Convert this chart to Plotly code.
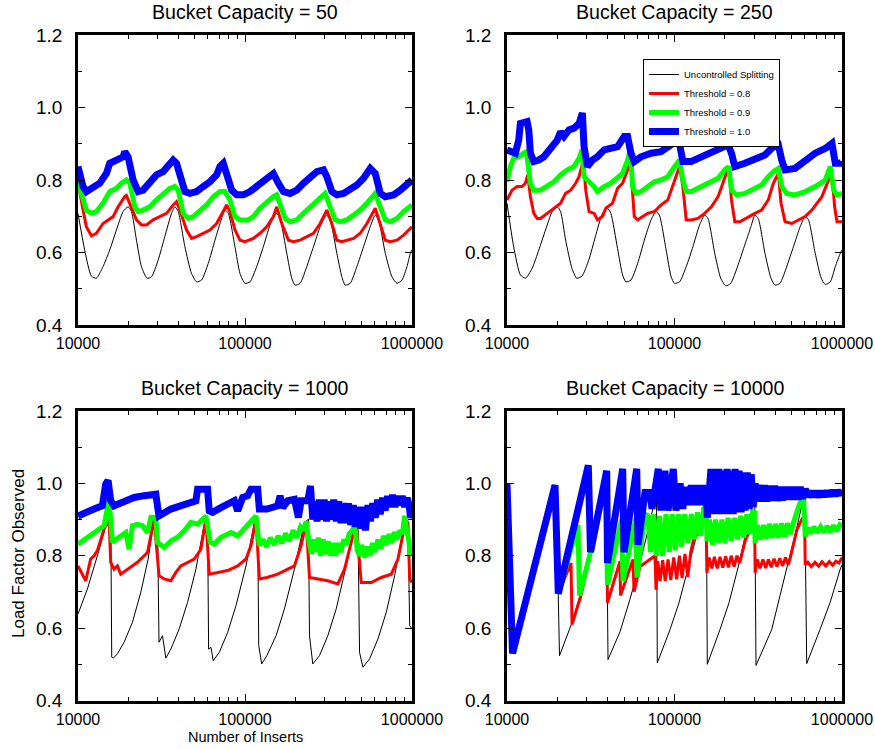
import plotly.graph_objects as go

# ---------------- data: (inserts, load factor) ----------------
cap50_uncontrolled = [(10000,0.708),(10960,0.607),(12020,0.535),(12880,0.529),(14120,0.561),(15490,0.607),(16980,0.662),(18620,0.713),(19950,0.726),(20890,0.713),(22390,0.634),(23990,0.561),(25900,0.529),(27540,0.533),(30200,0.579),(33110,0.644),(36310,0.708),(38020,0.726),(39810,0.713),(43650,0.616),(47860,0.542),(51290,0.519),(54950,0.524),(60260,0.570),(66070,0.634),(72440,0.694),(75860,0.717),(79430,0.708),(87100,0.616),(93330,0.542),(100000,0.515),(107150,0.519),(117490,0.561),(128800,0.616),(141200,0.676),(151400,0.703),(154900,0.708),(162200,0.694),(177800,0.598),(190500,0.529),(199500,0.510),(213800,0.515),(234400,0.561),(257000,0.616),(281800,0.671),(302000,0.699),(309000,0.703),(323600,0.690),(354800,0.598),(380200,0.533),(398100,0.510),(426600,0.515),(467700,0.561),(512900,0.616),(562300,0.671),(602600,0.703),(631000,0.690),(691800,0.598),(758600,0.533),(812800,0.515),(871000,0.524),(933300,0.561),(977200,0.598),(1000000,0.607)]
cap50_t08 = [(10000,0.791),(11220,0.671),(12020,0.646),(12880,0.653),(14120,0.680),(15490,0.694),(16220,0.699),(17380,0.726),(19050,0.754),(19500,0.757),(20890,0.726),(22390,0.690),(23990,0.676),(25700,0.676),(28180,0.690),(30900,0.699),(33880,0.708),(37150,0.731),(38900,0.740),(40740,0.717),(44670,0.662),(47860,0.639),(51290,0.644),(56230,0.653),(61660,0.662),(67610,0.680),(74130,0.713),(77620,0.731),(81280,0.713),(87100,0.662),(93330,0.634),(100000,0.630),(112200,0.639),(123000,0.653),(134900,0.671),(147900,0.699),(154900,0.726),(166000,0.680),(182000,0.634),(195000,0.630),(213800,0.634),(234400,0.644),(257000,0.653),(281800,0.680),(309000,0.717),(331100,0.680),(354800,0.634),(380200,0.630),(407400,0.634),(446700,0.639),(489800,0.653),(537000,0.680),(602600,0.722),(645700,0.680),(691800,0.634),(741300,0.630),(812800,0.634),(891300,0.648),(1000000,0.671)]
cap50_t09 = [(10000,0.795),(11220,0.717),(12020,0.708),(12880,0.713),(14120,0.736),(15490,0.768),(16980,0.777),(18200,0.791),(19500,0.800),(20420,0.791),(21880,0.726),(22910,0.713),(24550,0.717),(26920,0.726),(29510,0.745),(32360,0.763),(35480,0.777),(38020,0.782),(39810,0.772),(42660,0.708),(45710,0.694),(48980,0.699),(53700,0.713),(58880,0.731),(64570,0.754),(70790,0.768),(75860,0.768),(81280,0.745),(87100,0.699),(93330,0.690),(104700,0.690),(112200,0.699),(123000,0.722),(134900,0.740),(147900,0.754),(154900,0.759),(162200,0.736),(173800,0.694),(186200,0.685),(204200,0.690),(223900,0.708),(245500,0.726),(269200,0.745),(302000,0.763),(323600,0.726),(346700,0.690),(371500,0.685),(407400,0.690),(446700,0.703),(489800,0.717),(537000,0.736),(602600,0.763),(645700,0.726),(691800,0.690),(741300,0.685),(812800,0.694),(891300,0.713),(1000000,0.731)]
cap50_t10 = [(10000,0.837),(10720,0.782),(11220,0.768),(12300,0.777),(13490,0.791),(14790,0.818),(15490,0.846),(16980,0.855),(18620,0.864),(19050,0.878),(19950,0.864),(21380,0.800),(22910,0.768),(24550,0.772),(26920,0.791),(29510,0.814),(32360,0.823),(35480,0.841),(37150,0.855),(38900,0.846),(40740,0.809),(43650,0.768),(46770,0.763),(51290,0.768),(56230,0.782),(61660,0.795),(67610,0.814),(70790,0.837),(74130,0.846),(77620,0.818),(83180,0.772),(89130,0.759),(97720,0.759),(107150,0.768),(117490,0.782),(128800,0.791),(141200,0.809),(147900,0.818),(158500,0.791),(169800,0.768),(186200,0.763),(204200,0.772),(223900,0.791),(245500,0.809),(269200,0.823),(295100,0.828),(309000,0.809),(331100,0.768),(354800,0.759),(389000,0.763),(426600,0.772),(467700,0.786),(512900,0.805),(562300,0.832),(602600,0.818),(645700,0.763),(691800,0.754),(776200,0.759),(851100,0.772),(933300,0.791),(1000000,0.800)]

cap250_uncontrolled = [(10000,0.736),(10960,0.616),(12020,0.538),(12880,0.529),(14120,0.556),(15490,0.607),(16980,0.662),(18620,0.713),(19950,0.726),(20890,0.713),(22390,0.634),(24430,0.556),(26060,0.529),(28050,0.535),(30760,0.579),(33730,0.644),(37150,0.708),(39810,0.722),(41690,0.708),(45710,0.611),(48980,0.538),(51290,0.519),(54950,0.524),(60260,0.570),(66070,0.634),(72440,0.690),(77620,0.713),(81280,0.703),(89130,0.607),(95500,0.533),(100000,0.515),(107150,0.519),(117490,0.561),(128800,0.616),(141200,0.676),(151400,0.703),(158500,0.694),(173800,0.598),(188800,0.529),(202300,0.508),(216800,0.515),(237700,0.561),(260600,0.616),(285800,0.671),(302000,0.703),(316200,0.694),(346700,0.598),(376700,0.529),(398100,0.510),(426600,0.515),(467700,0.561),(512900,0.616),(562300,0.671),(602600,0.699),(631000,0.690),(691800,0.598),(751600,0.529),(794300,0.512),(851100,0.519),(912000,0.561),(977200,0.598),(1000000,0.607)]
cap250_t08 = [(10000,0.745),(10720,0.772),(11480,0.782),(12300,0.782),(12880,0.791),(13300,0.814),(13800,0.754),(14450,0.708),(15140,0.694),(15850,0.694),(17380,0.708),(19050,0.722),(20890,0.736),(22390,0.763),(23990,0.772),(25700,0.791),(26920,0.809),(28580,0.855),(29510,0.772),(30900,0.713),(33110,0.708),(34670,0.690),(37150,0.699),(38900,0.722),(42660,0.736),(45710,0.777),(48980,0.791),(52480,0.828),(54450,0.874),(56230,0.763),(57540,0.699),(60260,0.690),(64570,0.699),(69180,0.708),(75860,0.713),(83180,0.731),(91200,0.745),(100000,0.800),(107150,0.837),(112200,0.782),(117490,0.690),(125900,0.690),(138000,0.694),(151400,0.708),(166000,0.726),(182000,0.754),(199500,0.809),(210900,0.837),(218800,0.745),(229100,0.685),(245500,0.685),(275400,0.699),(302000,0.708),(331100,0.717),(363100,0.745),(389000,0.791),(416900,0.818),(432500,0.736),(457100,0.685),(501200,0.680),(549500,0.690),(602600,0.699),(660700,0.717),(758600,0.754),(831800,0.800),(871000,0.818),(903600,0.726),(933300,0.685),(1000000,0.685)]
cap250_t09 = [(10000,0.795),(10470,0.837),(10960,0.860),(11750,0.864),(12590,0.874),(13060,0.878),(13800,0.791),(14450,0.772),(15850,0.772),(17380,0.782),(19050,0.795),(20890,0.814),(22910,0.828),(25120,0.837),(26920,0.860),(28050,0.883),(28840,0.809),(30900,0.795),(33110,0.782),(34670,0.768),(38020,0.782),(41690,0.791),(45710,0.809),(48980,0.818),(52480,0.855),(54450,0.883),(56230,0.782),(58880,0.763),(63100,0.768),(69180,0.782),(75860,0.795),(83180,0.800),(91200,0.809),(100000,0.837),(107150,0.855),(112200,0.800),(117490,0.768),(125900,0.768),(138000,0.777),(151400,0.786),(166000,0.795),(182000,0.805),(199500,0.828),(210900,0.837),(218800,0.772),(234400,0.759),(263000,0.763),(302000,0.777),(331100,0.786),(363100,0.809),(389000,0.823),(416900,0.832),(436500,0.782),(467700,0.763),(524800,0.759),(602600,0.768),(691800,0.782),(794300,0.800),(851100,0.837),(891300,0.772),(933300,0.759),(1000000,0.763)]
cap250_t10 = [(10000,0.883),(10470,0.878),(11220,0.874),(11750,0.910),(12020,0.956),(13180,0.961),(13490,0.938),(13800,0.874),(14450,0.851),(15490,0.855),(16600,0.864),(18200,0.887),(19950,0.910),(20890,0.933),(21880,0.920),(23440,0.938),(25120,0.943),(26920,0.956),(28180,0.985),(28840,0.892),(30200,0.837),(32360,0.855),(34670,0.864),(38020,0.883),(41690,0.887),(45710,0.892),(50120,0.920),(52480,0.920),(54950,0.874),(57540,0.851),(63100,0.864),(72440,0.874),(83180,0.878),(95500,0.897),(104700,0.924),(112200,0.851),(125900,0.851),(144500,0.864),(166000,0.874),(190500,0.892),(208900,0.897),(218800,0.874),(229100,0.837),(263000,0.846),(302000,0.855),(346700,0.869),(389000,0.892),(416900,0.897),(436500,0.855),(457100,0.828),(524800,0.832),(602600,0.855),(691800,0.874),(794300,0.887),(871000,0.901),(912000,0.846),(977200,0.846),(1000000,0.851)]

cap1000_uncontrolled = [(10000,0.639),(11380,0.708),(13060,0.800),(14320,0.864),(15350,0.929),(15700,0.920),(15920,0.520),(16290,0.517),(17220,0.529),(18880,0.561),(21180,0.616),(23770,0.699),(26300,0.791),(28580,0.901),(29920,0.906),(30550,0.561),(32060,0.579),(33570,0.517),(35970,0.542),(40360,0.598),(45290,0.671),(50820,0.763),(57540,0.897),(59700,0.901),(60550,0.542),(62520,0.547),(64570,0.510),(70130,0.533),(78700,0.588),(88310,0.662),(101400,0.772),(114800,0.901),(119100,0.906),(120800,0.552),(125900,0.501),(135200,0.524),(153500,0.579),(172200,0.653),(197700,0.763),(226800,0.892),(239900,0.901),(243300,0.579),(254700,0.501),(279300,0.524),(313300,0.579),(351600,0.653),(403600,0.772),(457100,0.892),(474200,0.897),(485300,0.533),(508200,0.492),(557200,0.515),(625200,0.570),(701500,0.644),(787000,0.745),(903600,0.892),(946200,0.897),(968300,0.607),(1000000,0.598)]
cap1000_t08 = [(10000,0.772),(11120,0.731),(11910,0.791),(12470,0.800),(13060,0.814),(14320,0.874),(15350,0.901),(15700,0.782),(16440,0.763),(17220,0.772),(18030,0.749),(19770,0.763),(22680,0.782),(26060,0.809),(28580,0.901),(30550,0.745),(32810,0.736),(35970,0.731),(38550,0.754),(41300,0.772),(45290,0.782),(49660,0.791),(54450,0.818),(58340,0.901),(61090,0.749),(68550,0.754),(78700,0.759),(90360,0.772),(101400,0.791),(108600,0.828),(116400,0.901),(121900,0.736),(135200,0.740),(157000,0.749),(180300,0.763),(197700,0.772),(216800,0.828),(232300,0.892),(243300,0.740),(272900,0.736),(313300,0.731),(359700,0.722),(394500,0.763),(432500,0.837),(463400,0.892),(496600,0.726),(570200,0.726),(654600,0.740),(751600,0.749),(824100,0.791),(903600,0.883),(946200,0.887),(968300,0.736),(1000000,0.726)]
cap1000_t09 = [(10000,0.832),(11380,0.851),(13060,0.869),(14320,0.883),(15350,0.956),(15700,0.892),(16070,0.837),(17620,0.851),(19320,0.864),(20230,0.818),(21180,0.883),(22680,0.887),(24320,0.883),(26060,0.864),(27290,0.906),(29250,0.906),(29920,0.837),(32810,0.823),(35970,0.841),(39450,0.851),(43250,0.869),(47420,0.892),(52000,0.887),(55720,0.901),(58340,0.910),(61940,0.837),(65460,0.832),(71780,0.851),(82410,0.864),(90360,0.855),(99080,0.874),(111200,0.901),(116400,0.910),(121900,0.828),(128000,0.845),(135000,0.825),(142000,0.850),(150000,0.830),(158000,0.855),(166000,0.835),(175000,0.862),(184000,0.840),(194000,0.870),(204000,0.850),(215000,0.880),(225000,0.870),(232300,0.895),(243300,0.830),(250000,0.805),(258000,0.845),(266000,0.810),(275000,0.850),(284000,0.800),(294000,0.845),(304000,0.805),(315000,0.840),(326000,0.800),(338000,0.835),(350000,0.800),(362000,0.835),(375000,0.810),(390000,0.845),(405000,0.830),(420000,0.860),(440000,0.870),(452900,0.890),(470000,0.815),(485000,0.800),(500000,0.830),(520000,0.795),(540000,0.825),(560000,0.800),(580000,0.835),(600000,0.810),(625000,0.845),(650000,0.820),(675000,0.855),(700000,0.830),(728000,0.860),(756000,0.835),(785000,0.865),(815000,0.845),(845000,0.870),(875000,0.860),(903600,0.910),(930000,0.870),(955000,0.845),(980000,0.800),(1000000,0.820)]
cap1000_t10 = [(10000,0.910),(11380,0.924),(12470,0.929),(13990,0.938),(14650,0.998),(15140,1.008),(15700,0.952),(16440,0.938),(18880,0.952),(21680,0.961),(24890,0.966),(29250,0.970),(29920,0.938),(30550,0.910),(35970,0.929),(41300,0.938),(48530,0.947),(50820,0.952),(52000,0.984),(57020,0.984),(59700,0.984),(61090,0.924),(63960,0.920),(71780,0.933),(78700,0.943),(86310,0.952),(90360,0.924),(96830,0.961),(103700,0.966),(108600,0.984),(119100,0.984),(121900,0.929),(135200,0.929),(157000,0.938),(162200,0.966),(168300,0.933),(180300,0.952),(197700,0.956),(208900,0.906),(216800,0.952),(237700,0.952),(246600,0.993),(254700,0.900),(262000,0.950),(270000,0.895),(279000,0.955),(288000,0.900),(298000,0.955),(308000,0.895),(318000,0.950),(329000,0.900),(340000,0.955),(352000,0.895),(364000,0.950),(376000,0.890),(389000,0.945),(402000,0.890),(416000,0.945),(430000,0.885),(445000,0.940),(460000,0.880),(476000,0.935),(492000,0.875),(509000,0.935),(526000,0.870),(545000,0.940),(563000,0.895),(582000,0.945),(602000,0.905),(623000,0.955),(645000,0.915),(667000,0.960),(690000,0.925),(714000,0.965),(738000,0.935),(764000,0.968),(790000,0.935),(817000,0.965),(845000,0.940),(874000,0.965),(904000,0.935),(935000,0.960),(960000,0.940),(981700,0.905),(1000000,0.920)]

cap10000_uncontrolled = [(10000,1.0),(10790,0.53),(19350,0.995),(19610,0.99),(20580,0.524),(24440,0.615),(27280,0.69),(31300,0.80),(34940,0.89),(39270,0.985),(40090,0.513),(47280,0.59),(54250,0.68),(62250,0.78),(69480,0.87),(78090,0.975),(78950,0.504),(94010,0.596),(106400,0.67),(118800,0.753),(136200,0.86),(154800,0.97),(157000,0.50),(186900,0.596),(211500,0.67),(240400,0.77),(267300,0.86),(301200,0.97),(306600,0.497),(380500,0.596),(426600,0.69),(489300,0.80),(538700,0.88),(598900,0.975),(615600,0.502),(739000,0.596),(848000,0.67),(973000,0.761),(1000000,0.775)]
cap10000_t08 = [(10000,1.0),(10790,0.53),(19350,0.995),(20240,0.695),(24110,0.78),(24440,0.61),(27650,0.69),(31520,0.81),(39000,1.02),(39810,0.67),(47280,0.785),(47610,0.69),(56540,0.79),(57320,0.70),(62250,0.77),(76490,0.80),(77550,0.706),(79500,0.785),(82000,0.73),(85000,0.788),(88000,0.73),(91500,0.79),(95000,0.733),(99000,0.795),(103000,0.735),(107000,0.80),(111000,0.738),(115500,0.805),(120000,0.742),(125000,0.81),(130000,0.845),(145000,0.88),(154500,0.90),(156000,0.753),(161000,0.795),(167000,0.765),(173000,0.797),(180000,0.765),(187000,0.797),(194000,0.767),(202000,0.798),(210000,0.768),(218000,0.80),(227000,0.77),(236000,0.80),(245000,0.78),(265000,0.844),(290000,0.88),(301000,0.89),(303000,0.753),(312000,0.79),(324000,0.765),(337000,0.79),(350000,0.766),(364000,0.79),(378000,0.768),(393000,0.792),(409000,0.77),(425000,0.793),(442000,0.772),(460000,0.795),(478000,0.775),(495000,0.80),(538000,0.872),(575000,0.90),(598000,0.91),(603000,0.775),(625000,0.782),(655000,0.77),(690000,0.782),(725000,0.771),(760000,0.783),(800000,0.772),(840000,0.784),(880000,0.774),(920000,0.785),(960000,0.78),(1000000,0.795)]
cap10000_t09 = [(10000,1.0),(10790,0.53),(19350,0.995),(20240,0.695),(26540,0.885),(27090,0.69),(31520,0.81),(38800,1.0),(39810,0.72),(48270,0.90),(49270,0.73),(58510,0.90),(59730,0.74),(66670,0.915),(69500,0.91),(72000,0.81),(75000,0.915),(78000,0.80),(81500,0.91),(85000,0.80),(89000,0.915),(93000,0.81),(97000,0.915),(101000,0.815),(106000,0.915),(110000,0.825),(115000,0.915),(120000,0.835),(126000,0.915),(131000,0.845),(137000,0.92),(143000,0.855),(149000,0.93),(154500,0.935),(156500,0.84),(162000,0.90),(169000,0.83),(176000,0.90),(184000,0.835),(192000,0.90),(200000,0.835),(209000,0.905),(218000,0.84),(228000,0.905),(238000,0.845),(248000,0.91),(259000,0.85),(270000,0.915),(281000,0.86),(292000,0.92),(300000,0.925),(303000,0.835),(312000,0.885),(325000,0.845),(339000,0.885),(353000,0.848),(368000,0.888),(384000,0.85),(400000,0.888),(417000,0.85),(435000,0.89),(453000,0.852),(472000,0.89),(490000,0.86),(520000,0.90),(560000,0.945),(590000,0.96),(603000,0.853),(625000,0.878),(650000,0.862),(680000,0.88),(710000,0.864),(745000,0.88),(780000,0.865),(815000,0.882),(850000,0.866),(890000,0.884),(930000,0.868),(970000,0.885),(1000000,0.88)]
cap10000_t10 = [(10000,1.0),(10790,0.53),(19350,0.995),(20240,0.695),(30580,1.05),(31520,0.81),(39380,1.035),(39810,0.78),(49070,1.04),(49950,0.81),(59490,1.04),(60560,0.83),(66670,0.975),(71400,0.975),(73400,0.93),(80000,1.04),(83000,0.925),(87700,1.035),(91500,0.925),(98300,1.04),(102000,0.925),(108000,1.0),(112000,0.93),(117000,0.99),(121000,0.94),(126000,0.995),(131000,0.94),(136000,0.995),(141000,0.94),(147000,0.995),(152000,0.94),(155000,0.99),(157000,0.905),(165000,1.04),(169500,0.915),(174000,1.04),(179000,0.915),(184000,1.04),(189500,0.915),(195000,1.035),(200500,0.915),(206000,1.04),(212000,0.915),(218000,1.035),(224000,0.915),(230000,1.04),(236500,0.92),(243000,1.035),(250000,0.92),(257000,1.03),(264500,0.925),(272000,1.03),(279500,0.93),(287000,1.025),(295000,0.935),(303000,1.0),(310000,0.95),(320000,0.995),(332000,0.95),(344000,0.995),(356000,0.95),(369000,0.993),(382000,0.952),(396000,0.993),(410000,0.952),(425000,0.99),(440000,0.953),(456000,0.99),(472000,0.955),(489000,0.99),(507000,0.955),(525000,0.99),(544000,0.955),(563000,0.99),(583000,0.958),(604000,0.985),(625000,0.963),(650000,0.978),(675000,0.963),(700000,0.978),(728000,0.963),(756000,0.978),(785000,0.964),(815000,0.979),(846000,0.965),(878000,0.98),(912000,0.966),(946000,0.98),(980000,0.968),(1000000,0.978)]

panel_titles = ["Bucket Capacity = 50", "Bucket Capacity = 250", "Bucket Capacity = 1000", "Bucket Capacity = 10000"]
series_names = ["Uncontrolled Splitting", "Threshold = 0.8", "Threshold = 0.9", "Threshold = 1.0"]
x_tick_vals = [10000, 100000, 1000000]
x_tick_text = ["10000", "100000", "1000000"]
x_minor_vals = [20000, 30000, 40000, 50000, 60000, 70000, 80000, 90000,
                200000, 300000, 400000, 500000, 600000, 700000, 800000, 900000]
y_tick_vals = [0.4, 0.6, 0.8, 1.0, 1.2]
y_tick_text = ["0.4", "0.6", "0.8", "1.0", "1.2"]
y_minor_vals = [0.5, 0.7, 0.9, 1.1]

panel_data = [
    [cap50_uncontrolled, cap50_t08, cap50_t09, cap50_t10],
    [cap250_uncontrolled, cap250_t08, cap250_t09, cap250_t10],
    [cap1000_uncontrolled, cap1000_t08, cap1000_t09, cap1000_t10],
    [cap10000_uncontrolled, cap10000_t08, cap10000_t09, cap10000_t10],
]

# ---------------- styling ----------------
FONT = "Liberation Sans, Arial, Helvetica, sans-serif"
colors = ["#000000", "#ff0000", "#00ff00", "#0000ff"]
widths = [1, 3, 5, 7]

W, H = 875, 749
x_doms = [(78 / W, 412 / W), (507 / W, 842 / W)]
y_doms = [(1 - 325 / H, 1 - 35 / H), (1 - 700.5 / H, 1 - 411 / H)]

fig = go.Figure()

for p, series in enumerate(panel_data):
    ax = "" if p == 0 else str(p + 1)
    for s, pts in enumerate(series):
        xs = [q[0] for q in pts]
        ys = [q[1] for q in pts]
        shape = "spline" if (s == 0 and p < 2) else "linear"
        fig.add_trace(go.Scatter(
            x=xs, y=ys, mode="lines",
            line=dict(color=colors[s], width=widths[s], shape=shape, smoothing=0.6),
            name=series_names[s], legendgroup=series_names[s],
            showlegend=(p == 1),
            xaxis="x" + ax, yaxis="y" + ax,
        ))

layout = dict(
    width=W, height=H,
    margin=dict(l=0, r=0, t=0, b=0, autoexpand=False),
    paper_bgcolor="white", plot_bgcolor="white",
    font=dict(family=FONT, color="black"),
    showlegend=True,
    legend=dict(
        x=643 / W, y=1 - 59 / H, xanchor="left", yanchor="top",
        bgcolor="white", bordercolor="black", borderwidth=1,
        font=dict(size=9.5, family=FONT), itemwidth=30,
        tracegroupgap=0,
    ),
)

annotations = []
for p in range(4):
    ax = "" if p == 0 else str(p + 1)
    col = p % 2
    row = p // 2
    anchor_x = "x" + ax
    anchor_y = "y" + ax
    layout["xaxis" + ax] = dict(
        type="log", range=[4, 6], domain=list(x_doms[col]), anchor=anchor_y,
        showline=True, linecolor="black", linewidth=2.7, mirror="ticks",
        ticks="inside", ticklen=7, tickwidth=1, tickcolor="black",
        tickvals=x_tick_vals, ticktext=x_tick_text,
        tickfont=dict(size=16, family=FONT), ticklabelstandoff=2,
        minor=dict(tickvals=x_minor_vals, ticks="inside", ticklen=4, tickwidth=1, tickcolor="black", showgrid=False),
        showgrid=False, zeroline=False, fixedrange=True,
    )
    layout["yaxis" + ax] = dict(
        range=[0.4, 1.2], domain=list(y_doms[row]), anchor=anchor_x,
        showline=True, linecolor="black", linewidth=2.7, mirror="ticks",
        ticks="inside", ticklen=7, tickwidth=1, tickcolor="black",
        tickvals=y_tick_vals, ticktext=y_tick_text,
        tickfont=dict(size=19, family=FONT), ticklabelstandoff=9,
        minor=dict(tickvals=y_minor_vals, ticks="inside", ticklen=4, tickwidth=1, tickcolor="black", showgrid=False),
        showgrid=False, zeroline=False, fixedrange=True,
    )
    cx = (x_doms[col][0] + x_doms[col][1]) / 2
    ty = 1 - 12 / H if row == 0 else 1 - 388 / H
    annotations.append(dict(
        text=panel_titles[p], x=cx, y=ty, xref="paper", yref="paper",
        xanchor="center", yanchor="middle", showarrow=False,
        font=dict(size=19.6, family=FONT, color="black"),
    ))

annotations.append(dict(
    text="Load Factor Observed", x=18 / W, y=1 - 554 / H, xref="paper", yref="paper",
    textangle=-90, xanchor="center", yanchor="middle", showarrow=False,
    font=dict(size=17, family=FONT, color="black"),
))
annotations.append(dict(
    text="Number of Inserts", x=245 / W, y=1 - 737 / H, xref="paper", yref="paper",
    xanchor="center", yanchor="middle", showarrow=False,
    font=dict(size=14.5, family=FONT, color="black"),
))
layout["annotations"] = annotations

fig.update_layout(**layout)
fig.write_html("out.html")
